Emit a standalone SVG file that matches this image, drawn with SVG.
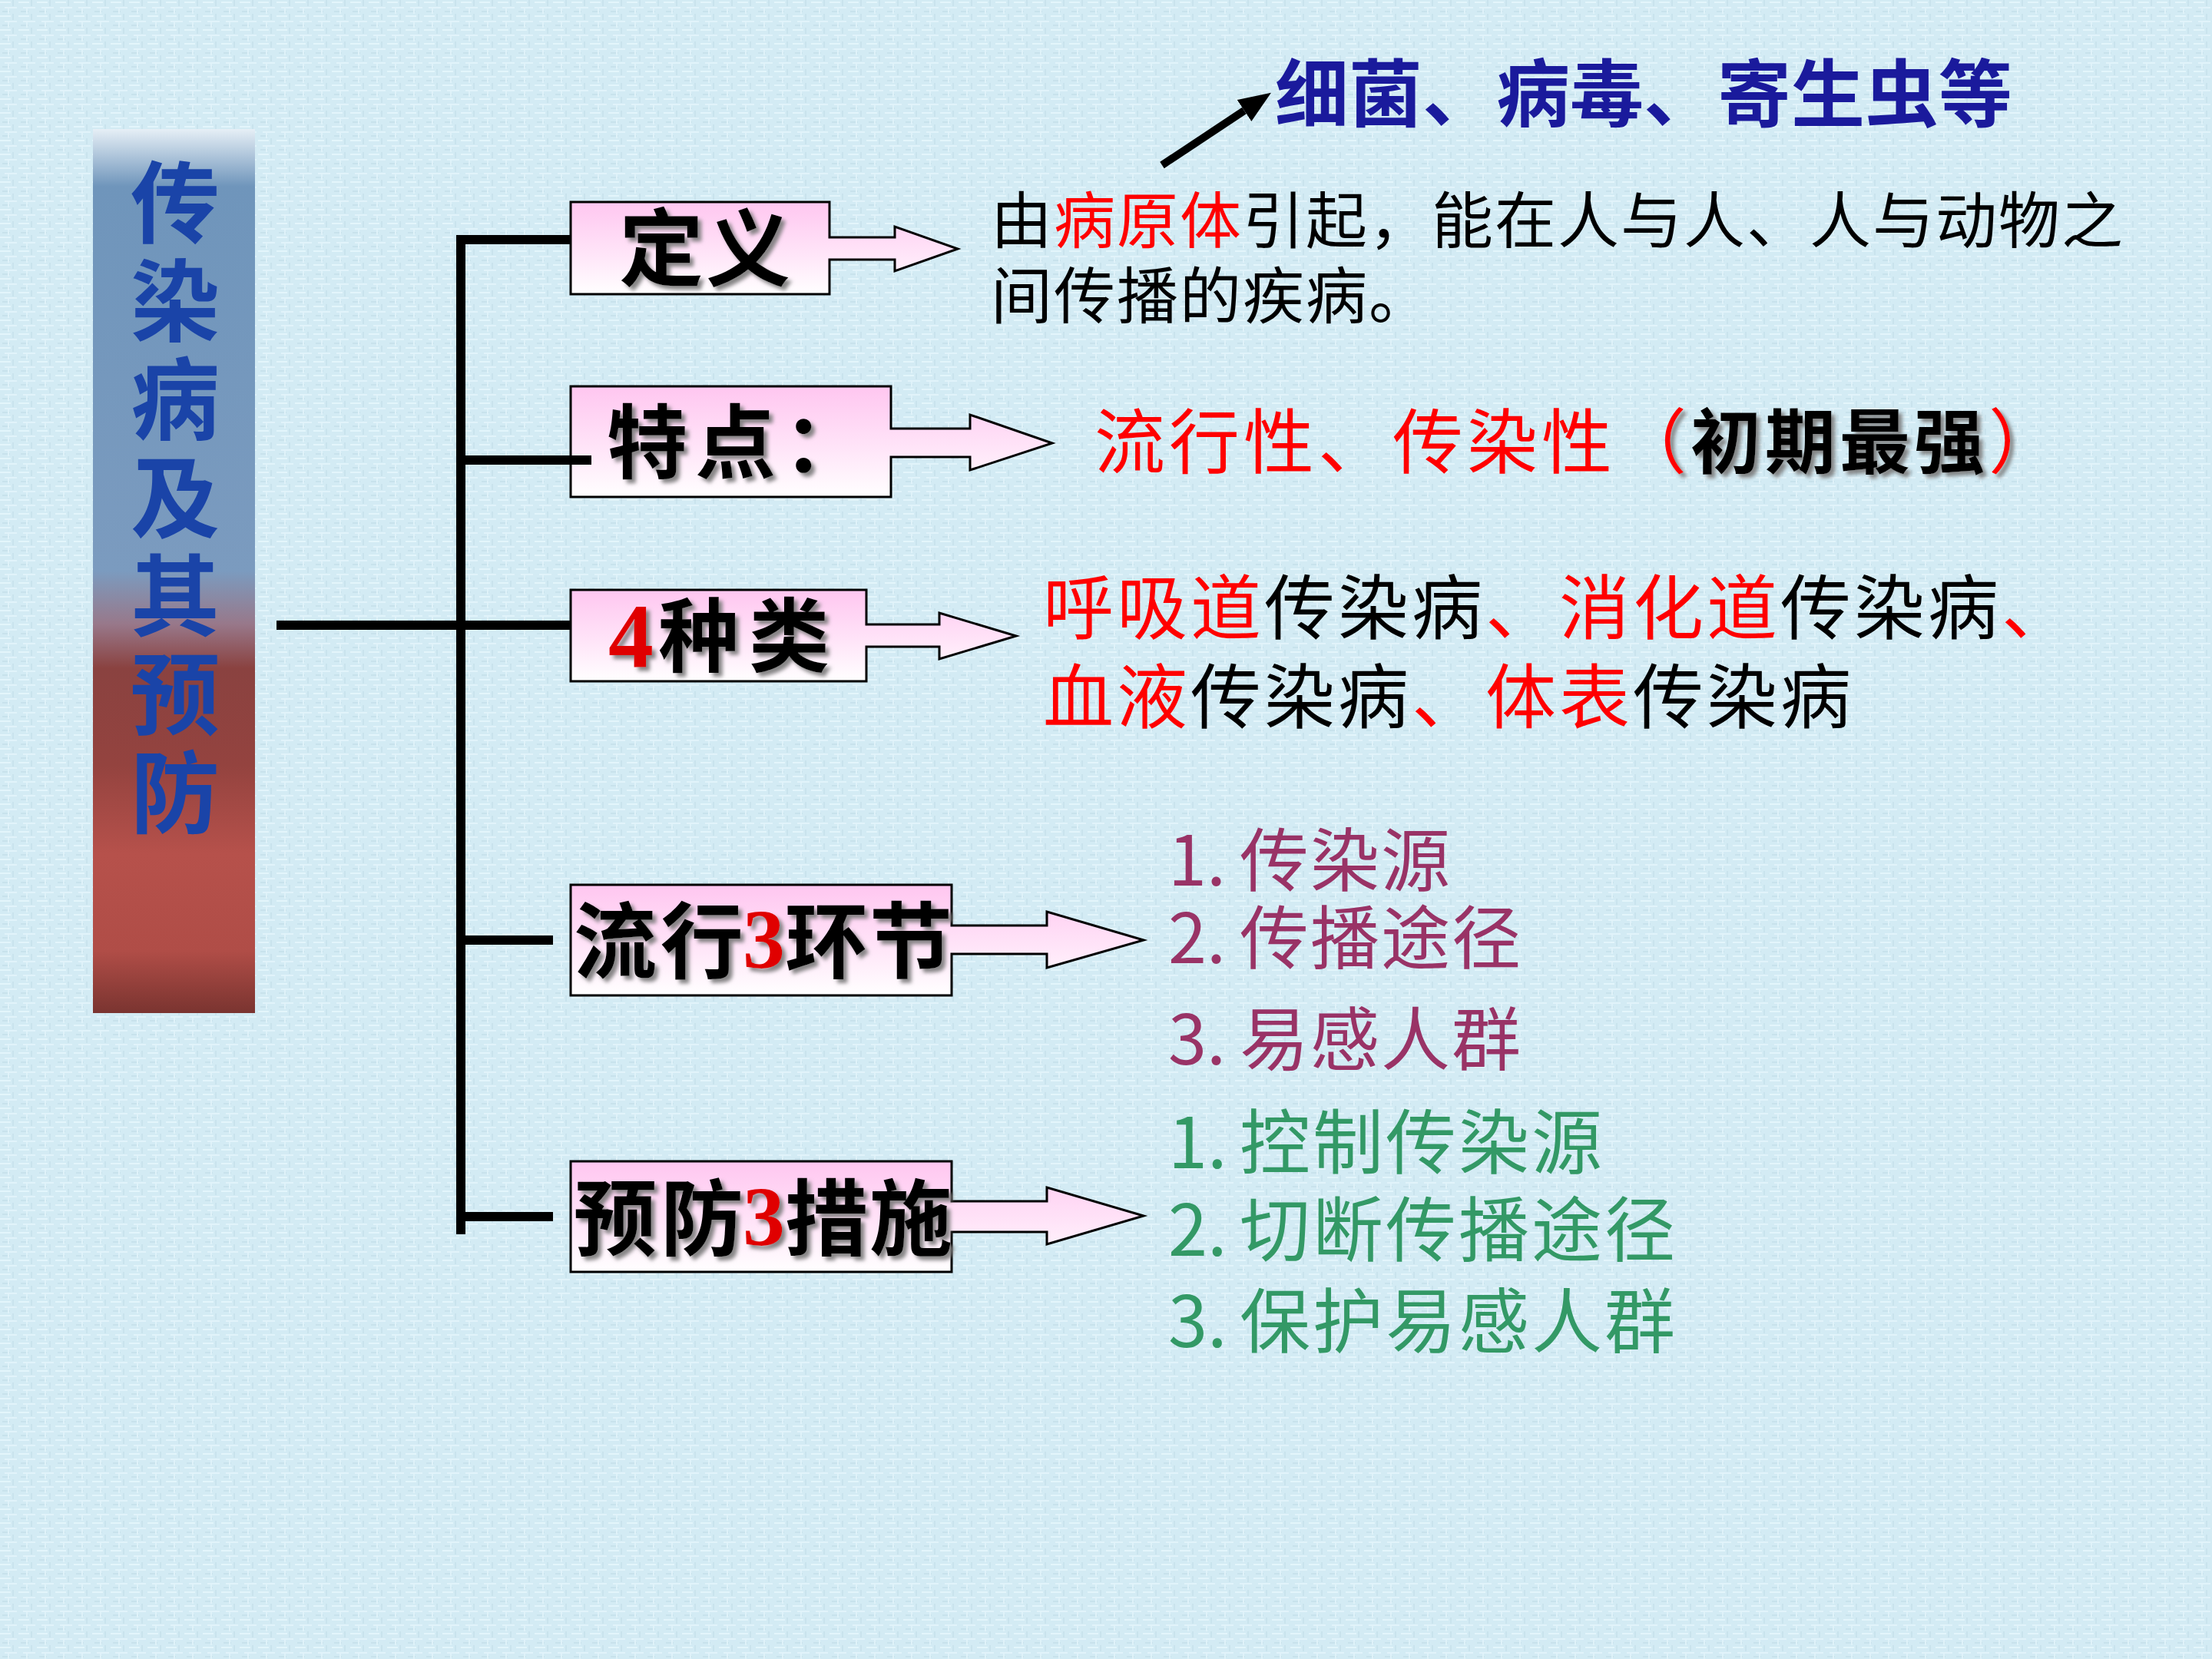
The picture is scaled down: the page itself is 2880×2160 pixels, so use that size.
<svg xmlns="http://www.w3.org/2000/svg" width="2880" height="2160" viewBox="0 0 2880 2160">
<defs>
  <pattern id="tex" width="24" height="18" patternUnits="userSpaceOnUse">
    <rect width="24" height="18" fill="#d3ebf4"/>
    <rect x="0" y="2" width="14" height="2" fill="#e3f5fb"/>
    <rect x="6" y="9" width="16" height="2" fill="#e1f3fa"/>
    <rect x="3" y="14" width="10" height="2" fill="#c8e2ec"/>
    <rect x="16" y="0" width="2" height="8" fill="#c9e3ed"/>
    <rect x="10" y="11" width="2" height="7" fill="#dff2f9"/>
  </pattern>
  <linearGradient id="bar" x1="0" y1="0" x2="0" y2="1">
    <stop offset="0" stop-color="#e6eff6"/>
    <stop offset="0.065" stop-color="#6f95bb"/>
    <stop offset="0.5" stop-color="#7b9bbf"/>
    <stop offset="0.56" stop-color="#98788a"/>
    <stop offset="0.61" stop-color="#8a4240"/>
    <stop offset="0.72" stop-color="#94433f"/>
    <stop offset="0.82" stop-color="#b6514b"/>
    <stop offset="0.93" stop-color="#b04d47"/>
    <stop offset="1" stop-color="#7a3430"/>
  </linearGradient>
  <linearGradient id="pink" x1="0" y1="0" x2="0" y2="1">
    <stop offset="0" stop-color="#ffc6f0"/>
    <stop offset="0.55" stop-color="#ffe4f8"/>
    <stop offset="1" stop-color="#ffffff"/>
  </linearGradient>
  <filter id="sh" x="-10%" y="-10%" width="130%" height="130%">
    <feDropShadow dx="5" dy="5" stdDeviation="2.5" flood-color="#7a7a7a" flood-opacity="0.9"/>
  </filter>
  <marker id="ah" viewBox="0 0 10 8" refX="0" refY="4" markerWidth="4.2" markerHeight="3.4" orient="auto" markerUnits="strokeWidth">
    <path d="M0,0 L10,4 L0,8 Z" fill="#000"/>
  </marker>
  <style>
    .cjk{font-family:"Noto Sans CJK SC","Noto Sans CJK TC",sans-serif;}
    .ttl{font-family:"Noto Sans CJK SC",sans-serif;font-size:116px;font-weight:700;fill:#1a44a8;}
    .callout{fill:url(#pink);stroke:#000;stroke-width:3;}
    .lbl{font-family:"Noto Sans CJK SC",sans-serif;font-weight:700;fill:#000;filter:url(#sh);}
    .num{font-family:"Liberation Serif",serif;font-weight:700;fill:#e00000;}
    .conn{stroke:#000;stroke-width:12;fill:none;}
    .red{fill:#ff0000;}
    .blk{fill:#000;}
    .pur{fill:#993366;}
    .grn{fill:#339966;}
  </style>
</defs>

<rect width="2880" height="2160" fill="url(#tex)"/>

<g id="title">
  <rect x="121" y="168" width="211" height="1151" fill="url(#bar)"/>
  <text class="ttl" x="228" y="205" writing-mode="vertical-rl" style="writing-mode:vertical-rl" letter-spacing="12">传染病及其预防</text>
</g>

<g id="connectors">
  <line class="conn" x1="600" y1="306" x2="600" y2="1607"/>
  <line class="conn" x1="594" y1="312" x2="743" y2="312"/>
  <line class="conn" x1="360" y1="814" x2="743" y2="814"/>
  <line class="conn" x1="594" y1="1224" x2="720" y2="1224"/>
  <line class="conn" x1="594" y1="1584" x2="720" y2="1584"/>
  <line x1="1513" y1="215" x2="1620" y2="144" stroke="#000" stroke-width="10" marker-end="url(#ah)"/>
</g>

<g id="node-dingyi">
  <path class="callout" d="M743,263 H1080 V309 H1165 V295 L1247,324 L1165,353 V338 H1080 V383 H743 Z"/>
  <text class="lbl" x="806" y="364" font-size="110" letter-spacing="3">定义</text>
</g>

<g id="node-tedian">
  <path class="callout" d="M743,503 H1160 V558 H1263 V540 L1370,577 L1263,612 V595 H1160 V647 H743 Z"/>
  <text class="lbl" x="790" y="614" font-size="105" letter-spacing="10">特点：</text>
</g>
<line class="conn" x1="594" y1="599" x2="770" y2="599"/>

<g id="node-zhonglei">
  <path class="callout" d="M743,768 H1128 V813 H1223 V798 L1323,828 L1223,858 V842 H1128 V887 H743 Z"/>
  <text x="792" y="868" font-size="118" class="num" filter="url(#sh)">4</text>
  <text class="lbl" x="857" y="866" font-size="105" letter-spacing="13">种类</text>
</g>

<g id="node-liuxing">
  <path class="callout" d="M743,1152 H1239 V1205 H1363 V1187 L1489,1224 L1363,1260 V1242 H1239 V1296 H743 Z"/>
  <text class="lbl" y="1265" font-size="108"><tspan x="747">流</tspan><tspan x="860">行</tspan></text>
  <text x="967" y="1260" font-size="110" class="num" filter="url(#sh)">3</text>
  <text class="lbl" y="1265" font-size="108"><tspan x="1022">环</tspan><tspan x="1132">节</tspan></text>
</g>

<g id="node-yufang">
  <path class="callout" d="M743,1512 H1239 V1564 H1363 V1546 L1489,1583 L1363,1620 V1604 H1239 V1656 H743 Z"/>
  <text class="lbl" y="1626" font-size="108"><tspan x="747">预</tspan><tspan x="860">防</tspan></text>
  <text x="967" y="1621" font-size="110" class="num" filter="url(#sh)">3</text>
  <text class="lbl" y="1626" font-size="108"><tspan x="1022">措</tspan><tspan x="1132">施</tspan></text>
</g>

<g id="text-pathogen">
  <text class="cjk" x="1660" y="157" font-size="96" font-weight="700" fill="#1a1a9c">细菌、病毒、寄生虫等</text>
</g>

<g id="text-definition">
  <text class="cjk blk" x="1290" y="316" font-size="80" letter-spacing="2">由<tspan class="red">病原体</tspan>引起，能在人与人、人与动物之</text>
  <text class="cjk blk" x="1290" y="414" font-size="80" letter-spacing="2">间传播的疾病。</text>
</g>

<g id="text-features">
  <text class="cjk red" x="1425" y="609" font-size="92" letter-spacing="5">流行性、传染性<tspan filter="url(#sh)">（</tspan><tspan class="blk" font-weight="700" filter="url(#sh)">初期最强</tspan><tspan filter="url(#sh)">）</tspan></text>
</g>

<g id="text-types">
  <text class="cjk red" x="1358" y="825" font-size="92" letter-spacing="4">呼吸道<tspan class="blk">传染病</tspan>、消化道<tspan class="blk">传染病</tspan>、</text>
  <text class="cjk red" x="1358" y="941" font-size="92" letter-spacing="4">血液<tspan class="blk">传染病</tspan>、体表<tspan class="blk">传染病</tspan></text>
</g>

<g id="text-links" class="cjk pur" font-size="90">
  <text y="1153"><tspan x="1521">1.</tspan><tspan x="1614" letter-spacing="2">传染源</tspan></text>
  <text y="1254"><tspan x="1521">2.</tspan><tspan x="1614" letter-spacing="2">传播途径</tspan></text>
  <text y="1386"><tspan x="1521">3.</tspan><tspan x="1614" letter-spacing="2">易感人群</tspan></text>
</g>

<g id="text-measures" class="cjk grn" font-size="92">
  <text y="1521"><tspan x="1521">1.</tspan><tspan x="1614" letter-spacing="3">控制传染源</tspan></text>
  <text y="1635"><tspan x="1521">2.</tspan><tspan x="1614" letter-spacing="3">切断传播途径</tspan></text>
  <text y="1754"><tspan x="1521">3.</tspan><tspan x="1614" letter-spacing="3">保护易感人群</tspan></text>
</g>
</svg>
